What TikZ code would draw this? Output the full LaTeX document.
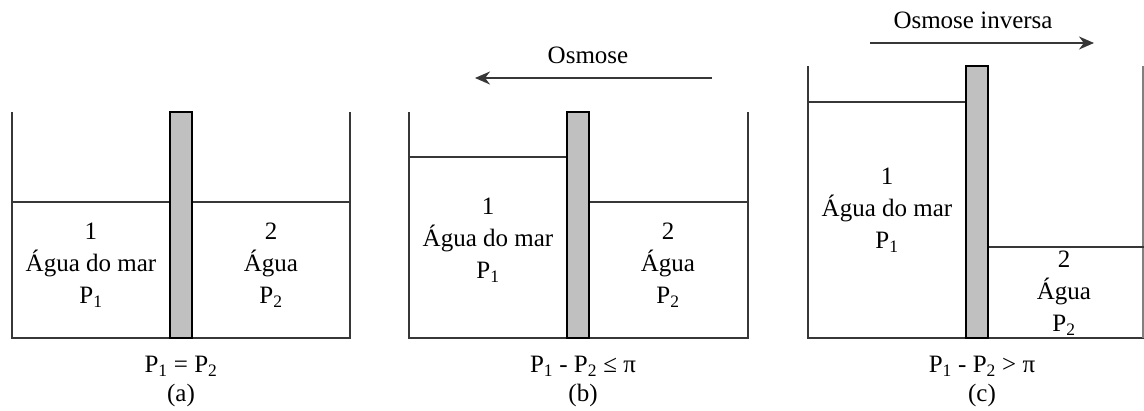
\documentclass[tikz,border=0pt]{standalone}
\usepackage{fontspec}
\setmainfont{Liberation Serif}
\usetikzlibrary{arrows.meta,positioning}
\definecolor{wallgray}{RGB}{55,55,55}
\definecolor{membranegray}{RGB}{192,192,192}

\begin{document}
\begin{tikzpicture}[x=1pt, y=-1pt, >={Stealth[length=15pt,width=13pt]},
    wall/.style={draw=wallgray, line width=2pt},
    membrane/.style={draw=black, fill=membranegray, line width=1.5pt},
    tag/.style={font=\fontsize{25}{32}\selectfont, align=center, inner sep=0pt},
    flow/.style={->, line width=2pt, draw=wallgray}]
        \useasboundingbox (0,0) rectangle (1144,410);

        % (a) equal levels
        \draw[wall] (12,112) -- (12,338) -- (350,338) -- (350,112);
        \draw[wall] (12,202) -- (170,202);
        \draw[wall] (192,202) -- (350,202);
        \draw[membrane] (170,112) rectangle (192,338);
        \node[tag] (a1) at (91,265) {1\\Água do mar\\P\textsubscript{1}};
        \node[tag] (a2) at (271,265) {2\\Água\\P\textsubscript{2}};
        \node[tag] (alaw) at (181,366) {P\textsubscript{1} = P\textsubscript{2}};
        \node[tag] (acap) at (181,395) {(a)};

        % (b) osmosis
        \draw[wall] (409,112) -- (409,338) -- (748,338) -- (748,112);
        \draw[wall] (409,157) -- (567,157);
        \draw[wall] (589,202) -- (748,202);
        \draw[membrane] (567,112) rectangle (589,338);
        \node[tag] (b1) at (488,240) {1\\Água do mar\\P\textsubscript{1}};
        \node[tag] (b2) at (668,265) {2\\Água\\P\textsubscript{2}};
        \node[tag] (blaw) at (583,366) {P\textsubscript{1} - P\textsubscript{2} ≤ π};
        \node[tag] (bcap) at (583,395) {(b)};
        \node[tag] (bflow) at (588,55) {Osmose};
        \coordinate (bfrom) at (712,78);
        \coordinate (bto) at (475,78);
        \draw[flow] (bfrom) -- (bto);

        % (c) reverse osmosis
        \draw[wall] (808,66) -- (808,338) -- (1144,338);
        \draw[wall, draw=gray] (1143,66) -- (1143,338);
        \draw[wall] (808,102) -- (966,102);
        \draw[wall] (988,247) -- (1144,247);
        \draw[membrane] (966,66) rectangle (988,338);
        \node[tag] (c1) at (887,210) {1\\Água do mar\\P\textsubscript{1}};
        \node[tag] (c2) at (1064,293) {2\\Água\\P\textsubscript{2}};
        \node[tag] (claw) at (982,366) {P\textsubscript{1} - P\textsubscript{2} > π};
        \node[tag] (ccap) at (982,395) {(c)};
        \node[tag] (cflow) at (973,20) {Osmose inversa};
        \coordinate (cfrom) at (870,43);
        \coordinate (cto) at (1094,43);
        \draw[flow] (cfrom) -- (cto);
    \end{tikzpicture}
\end{document}
